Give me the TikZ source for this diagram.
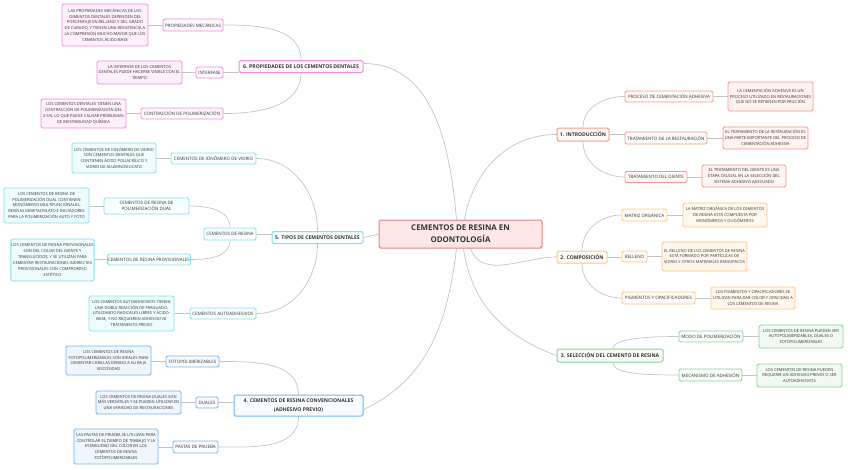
\documentclass[tikz,border=0pt]{standalone}
\usepackage{fontspec}
\setmainfont{Open Sans}
\usetikzlibrary{backgrounds}
\definecolor{txt}{HTML}{333333}
\definecolor{lineC}{HTML}{C4C4C4}
\definecolor{cenB}{HTML}{EC7C7C}
\definecolor{cenF}{HTML}{FDE7E7}
\definecolor{rB}{HTML}{F39A8B}
\definecolor{rF}{HTML}{FFF2F0}
\definecolor{oB}{HTML}{FFC580}
\definecolor{oF}{HTML}{FFF7EC}
\definecolor{gB}{HTML}{86D49A}
\definecolor{gF}{HTML}{F1FAF2}
\definecolor{bB}{HTML}{6FB6EE}
\definecolor{bF}{HTML}{EFF6FD}
\definecolor{cB}{HTML}{7FE2EA}
\definecolor{cF}{HTML}{EFFCFD}
\definecolor{pB}{HTML}{F08AE4}
\definecolor{pF}{HTML}{FDEFFB}
\tikzset{
  conn/.style={draw=lineC, line width=0.7pt},
  box/.style={draw, rounded corners=1.6pt, line width=0.9pt, align=center, inner sep=0.5pt, text=txt},
  desc/.style={box, font=\fontsize{4.05}{5.9}\selectfont},
  lab/.style={box, font=\fontsize{4.5}{5.5}\selectfont},
  head/.style={box, line width=1pt, font=\bfseries\fontsize{5.1}{8.3}\selectfont},
  sR/.style={draw=rB, fill=rF},
  sO/.style={draw=oB, fill=oF},
  sG/.style={draw=gB, fill=gF},
  sB/.style={draw=bB, fill=bF},
  sC/.style={draw=cB, fill=cF},
  sP/.style={draw=pB, fill=pF},
  wR/.style={draw=rB, fill=white!60!rF},
  wO/.style={draw=oB, fill=white!60!oF},
  wG/.style={draw=gB, fill=white!60!gF},
  wB/.style={draw=bB, fill=white!60!bF},
  wC/.style={draw=cB, fill=white!60!cF},
  wP/.style={draw=pB, fill=white!60!pF},
}
\begin{document}
\begin{tikzpicture}[x=1pt,y=-1pt]
\useasboundingbox (0,0) rectangle (848,469);
% central
\node[box, draw=cenB, fill=cenF, line width=1pt, minimum width=163, minimum height=28, font=\bfseries\fontsize{7.9}{11.7}\selectfont] (c) at (460.5,234) {CEMENTOS DE RESINA EN\\ODONTOLOGÍA};
% branch 1
\node[head, wR, minimum width=52, minimum height=13] (b1) at (583,134.5) {1. INTRODUCCIÓN};
\node[lab, wR, minimum width=88, minimum height=11] (b1a) at (669,96.5) {PROCESO DE CEMENTACIÓN ADHESIVA};
\node[desc, sR, minimum width=85, minimum height=29] (b1ad) at (770.5,96.5) {LA CEMENTACIÓN ADHESIVA ES UN\\PROCESO UTILIZADO EN RESTAURACIONES\\QUE NO SE RETIENEN POR FRICCIÓN};
\node[lab, wR, minimum width=82, minimum height=12] (b1b) at (666,138) {TRATAMIENTO DE LA RESTAURACIÓN};
\node[desc, sR, minimum width=85, minimum height=22] (b1bd) at (765.5,138) {EL TRATAMIENTO DE LA RESTAURACIÓN ES\\UNA PARTE IMPORTANTE DEL PROCESO DE\\CEMENTACIÓN ADHESIVA};
\node[lab, wR, minimum width=62, minimum height=11] (b1c) at (656,177) {TRATAMIENTO DEL DIENTE};
\node[desc, sR, minimum width=84, minimum height=22] (b1cd) at (744,176) {EL TRATAMIENTO DEL DIENTE ES UNA\\ETAPA CRUCIAL EN LA SELECCIÓN DEL\\SISTEMA ADHESIVO ADECUADO};
% branch 2
\node[head, wO, minimum width=50, minimum height=12] (b2) at (582,257) {2. COMPOSICIÓN};
\node[lab, wO, minimum width=45, minimum height=12] (b2a) at (644.5,215) {MATRIZ ORGÁNICA};
\node[desc, sO, minimum width=84, minimum height=24] (b2ad) at (725,215) {LA MATRIZ ORGÁNICA DE LOS CEMENTOS\\DE RESINA ESTÁ COMPUESTA POR\\MONÓMEROS Y OLIGÓMEROS};
\node[lab, wO, minimum width=25, minimum height=11] (b2b) at (634.5,256.5) {RELLENO};
\node[desc, sO, minimum width=85, minimum height=29] (b2bd) at (704.5,256.5) {EL RELLENO DE LOS CEMENTOS DE RESINA\\ESTÁ FORMADO POR PARTÍCULAS DE\\VIDRIO Y OTROS MATERIALES RADIOPACOS};
\node[lab, wO, minimum width=73, minimum height=12] (b2c) at (658.5,298) {PIGMENTOS Y OPACIFICADORES};
\node[desc, sO, minimum width=84, minimum height=22] (b2cd) at (753,298) {LOS PIGMENTOS Y OPACIFICADORES SE\\UTILIZAN PARA DAR COLOR Y OPACIDAD A\\LOS CEMENTOS DE RESINA};
% branch 3
\node[head, wG, minimum width=106, minimum height=13] (b3) at (610,355.5) {3. SELECCIÓN DEL CEMENTO DE RESINA};
\node[lab, wG, minimum width=64, minimum height=11] (b3a) at (711,336.5) {MODO DE POLIMERIZACIÓN};
\node[desc, sG, minimum width=84, minimum height=23] (b3ad) at (801,336.5) {LOS CEMENTOS DE RESINA PUEDEN SER\\AUTOPOLIMERIZABLES, DUALES O\\FOTOPOLIMERIZABLES};
\node[lab, wG, minimum width=63, minimum height=12] (b3b) at (710.5,375) {MECANISMO DE ADHESIÓN};
\node[desc, sG, minimum width=85, minimum height=23] (b3bd) at (799.5,375.5) {LOS CEMENTOS DE RESINA PUEDEN\\REQUERIR UN ADHESIVO PREVIO O SER\\AUTOADHESIVOS};
% branch 4
\node[head, wB, minimum width=129, minimum height=21] (b4) at (298.5,405.5) {4. CEMENTOS DE RESINA CONVENCIONALES\\(ADHESIVO PREVIO)};
\node[lab, wB, minimum width=53, minimum height=11] (b4a) at (192.5,361.5) {FOTOPOLIMERIZABLES};
\node[desc, sB, minimum width=85, minimum height=29] (b4ad) at (108.5,360.5) {LOS CEMENTOS DE RESINA\\FOTOPOLIMERIZABLES SON IDEALES PARA\\CEMENTAR CARILLAS DEBIDO A SU BAJA\\VISCOSIDAD};
\node[lab, wB, minimum width=22, minimum height=11] (b4b) at (207,402.5) {DUALES};
\node[desc, sB, minimum width=85, minimum height=23] (b4bd) at (138.5,402.5) {LOS CEMENTOS DE RESINA DUALES SON\\MÁS VERSÁTILES Y SE PUEDEN UTILIZAR EN\\UNA VARIEDAD DE RESTAURACIONES};
\node[lab, wB, minimum width=45, minimum height=12] (b4c) at (195.5,447) {PASTAS DE PRUEBA};
\node[desc, sB, minimum width=84, minimum height=35] (b4cd) at (116,446.5) {LAS PASTAS DE PRUEBA SE UTILIZAN PARA\\CONTROLAR EL TIEMPO DE TRABAJO Y LA\\ESTABILIDAD DEL COLOR EN LOS\\CEMENTOS DE RESINA\\FOTOPOLIMERIZABLES};
% branch 5
\node[head, wC, minimum width=91, minimum height=12] (b5) at (317.5,237.5) {5. TIPOS DE CEMENTOS DENTALES};
\node[lab, wC, minimum width=85, minimum height=11] (b5a) at (213.5,158.5) {CEMENTOS DE IONÓMERO DE VIDRIO};
\node[desc, sC, minimum width=84, minimum height=30] (b5ad) at (114,158) {LOS CEMENTOS DE IONÓMERO DE VIDRIO\\SON CEMENTOS DENTALES QUE\\CONTIENEN ÁCIDO POLIACRÍLICO Y\\VIDRIO DE ALUMINOSILICATO};
\node[lab, wC, minimum width=52, minimum height=12] (b5b) at (230,234) {CEMENTOS DE RESINA};
\node[lab, wC, minimum width=85, minimum height=16, font=\fontsize{4.5}{6.5}\selectfont] (b5b1) at (146.5,206) {CEMENTOS DE RESINA DE\\POLIMERIZACIÓN DUAL};
\node[desc, sC, minimum width=85, minimum height=35] (b5b1d) at (46.5,205.5) {LOS CEMENTOS DE RESINA DE\\POLIMERIZACIÓN DUAL CONTIENEN\\MONÓMEROS MULTIFUNCIONALES,\\RESINAS DIMETACRILATO E INICIADORES\\PARA LA POLIMERIZACIÓN AUTO Y FOTO};
\node[lab, wC, minimum width=78, minimum height=11] (b5b2) at (149,259.5) {CEMENTOS DE RESINA PROVISIONALES};
\node[desc, sC, minimum width=83, minimum height=42] (b5b2d) at (52.5,260) {LOS CEMENTOS DE RESINA PROVISIONALES\\SON DEL COLOR DEL DIENTE Y\\TRANSLÚCIDOS, Y SE UTILIZAN PARA\\CEMENTAR RESTAURACIONES INDIRECTAS\\PROVISIONALES CON COMPROMISO\\ESTÉTICO};
\node[lab, wC, minimum width=66, minimum height=11] (b5c) at (223,313.5) {CEMENTOS AUTOADHESIVOS};
\node[desc, sC, minimum width=85, minimum height=35] (b5cd) at (131.5,313.5) {LOS CEMENTOS AUTOADHESIVOS TIENEN\\UNA DOBLE REACCIÓN DE FRAGUADO,\\UTILIZANDO RADICALES LIBRES Y ÁCIDO-\\BASE, Y NO REQUIEREN ADHESIVO NI\\TRATAMIENTO PREVIO};
% branch 6
\node[head, wP, minimum width=124, minimum height=12] (b6) at (301,66.5) {6. PROPIEDADES DE LOS CEMENTOS DENTALES};
\node[lab, wP, minimum width=60, minimum height=12] (b6a) at (193,25) {PROPIEDADES MECÁNICAS};
\node[desc, sP, minimum width=86, minimum height=42] (b6ad) at (105,25) {LAS PROPIEDADES MECÁNICAS DE LOS\\CEMENTOS DENTALES DEPENDEN DEL\\PORCENTAJE EN RELLENO Y DEL GRADO\\DE CURADO, Y TIENEN UNA RESISTENCIA A\\LA COMPRESIÓN MUCHO MAYOR QUE LOS\\CEMENTOS ÁCIDO-BASE};
\node[lab, wP, minimum width=27, minimum height=11] (b6b) at (209.5,72.5) {INTERFASE};
\node[desc, sP, minimum width=85, minimum height=23] (b6bd) at (139.5,72.5) {LA INTERFASE DE LOS CEMENTOS\\DENTALES PUEDE HACERSE VISIBLE CON EL\\TIEMPO};
\node[lab, wP, minimum width=82, minimum height=11] (b6c) at (182,113.5) {CONTRACCIÓN DE POLIMERIZACIÓN};
\node[desc, sP, minimum width=85, minimum height=29] (b6cd) at (83.5,113.5) {LOS CEMENTOS DENTALES TIENEN UNA\\CONTRACCIÓN DE POLIMERIZACIÓN DEL\\2-5\%, LO QUE PUEDE CAUSAR PROBLEMAS\\DE INESTABILIDAD QUÍMICA};
\begin{pgfonlayer}{background}
% main connectors
\draw[conn] ([xshift=-4]c.north) to[out=95,in=0] ([yshift=3]b6.east);
\draw[conn] ([xshift=4]c.north) to[out=80,in=180] (b1.west);
\draw[conn] ([xshift=10]c.south) to[out=-70,in=180] (b2.west);
\draw[conn] ([xshift=3]c.south) to[out=-82,in=160] (b3.west);
\draw[conn] ([xshift=-4]c.south) to[out=-97,in=25] ([yshift=-4]b4.east);
\draw[conn] (c.west) -- (b5.east);
% sub connectors
\draw[conn] (b1.north) to[out=90,in=180] (b1a.west);
\draw[conn] (b1.east) -- (b1.east -| b1b.west);
\draw[conn] (b1.south) to[out=-90,in=180] (b1c.west);
\draw[conn] (b2.north) to[out=90,in=180] (b2a.west);
\draw[conn] (b2.east) -- (b2.east -| b2b.west);
\draw[conn] (b2.south) to[out=-90,in=180] (b2c.west);
\draw[conn] ([xshift=3]b3.north) .. controls +(0,-9) and +(-38,0) .. (b3a.west);
\draw[conn] ([xshift=3]b3.south) .. controls +(0,11) and +(-38,0) .. (b3b.west);
\draw[conn] (b4.north) to[out=90,in=0] (b4a.east);
\draw[conn] (b4b.east) -- (b4b.east -| b4.west);
\draw[conn] (b4.south) to[out=-90,in=0] (b4c.east);
\draw[conn] (b5.north) to[out=90,in=0] (b5a.east);
\draw[conn] (b5b.east) -- (b5b.east -| b5.west);
\draw[conn] (b5.south) to[out=-90,in=0] (b5c.east);
\draw[conn] (b5b.north) to[out=90,in=0] (b5b1.east);
\draw[conn] (b5b.south) to[out=-90,in=0] (b5b2.east);
\draw[conn] (b6.north) to[out=90,in=0] (b6a.east);
\draw[conn] (b6b.east) -- (b6b.east -| b6.west);
\draw[conn] (b6.south) to[out=-90,in=0] (b6c.east);
% leaf connectors
\draw[conn] (b1a.east) -- (b1a.east -| b1ad.west);
\draw[conn] (b1b.east) -- (b1b.east -| b1bd.west);
\draw[conn] (b1c.east) -- (b1c.east -| b1cd.west);
\draw[conn] (b2a.east) -- (b2a.east -| b2ad.west);
\draw[conn] (b2b.east) -- (b2b.east -| b2bd.west);
\draw[conn] (b2c.east) -- (b2c.east -| b2cd.west);
\draw[conn] (b3a.east) -- (b3a.east -| b3ad.west);
\draw[conn] (b3b.east) -- (b3b.east -| b3bd.west);
\draw[conn] (b4a.west) -- (b4a.west -| b4ad.east);
\draw[conn] (b4b.west) -- (b4b.west -| b4bd.east);
\draw[conn] (b4c.west) -- (b4c.west -| b4cd.east);
\draw[conn] (b5a.west) -- (b5a.west -| b5ad.east);
\draw[conn] (b5b1.west) -- (b5b1.west -| b5b1d.east);
\draw[conn] (b5b2.west) -- (b5b2.west -| b5b2d.east);
\draw[conn] (b5c.west) -- (b5c.west -| b5cd.east);
\draw[conn] (b6a.west) -- (b6a.west -| b6ad.east);
\draw[conn] (b6b.west) -- (b6b.west -| b6bd.east);
\draw[conn] (b6c.west) -- (b6c.west -| b6cd.east);
\end{pgfonlayer}
\end{tikzpicture}
\end{document}
